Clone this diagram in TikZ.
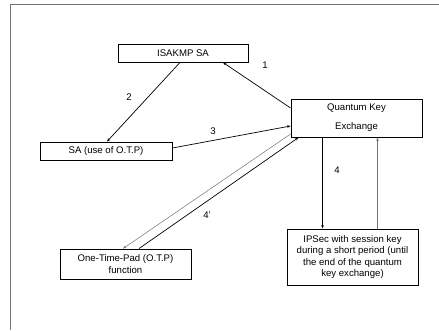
\documentclass[tikz,border=0pt]{standalone}
\usepackage{fontspec}
\setmainfont{Liberation Sans}
\usetikzlibrary{arrows.meta}
\begin{document}
\begin{tikzpicture}[x=1pt,y=-1pt,
  box/.style={draw=black,line width=0.9pt,inner sep=0pt,align=center,
    font=\fontsize{9.6}{11.6}\selectfont},
  lbl/.style={inner sep=0pt,font=\fontsize{9.6}{11.6}\selectfont},
  arr/.style={line width=0.7pt,-{Stealth[length=3.5pt,width=2.6pt]}},
  garr/.style={line width=0.5pt,draw=black!55,-{Stealth[length=3.5pt,width=2.6pt]}}]
\useasboundingbox (0,0) rectangle (439,330);
\draw[line width=1.6pt,draw=black!55] (439,4.5) -- (10.5,4.5) -- (10.5,330);
\node[box,minimum width=130pt,minimum height=18pt] (isakmp) at (183,53) {ISAKMP SA};
\node[box,minimum width=131pt,minimum height=38pt,font=\fontsize{9.6}{19}\selectfont] (qke) at (356.5,118) {Quantum Key\\Exchange};
\node[box,minimum width=132pt,minimum height=18pt] (sa) at (106,151) {SA (use of O.T.P)};
\node[box,minimum width=131pt,minimum height=30pt] (otp) at (125.5,264) {One-Time-Pad (O.T.P)\\function};
\node[box,minimum width=131pt,minimum height=56pt] (ipsec) at (352.5,257) {IPSec with session key\\during a short period (until\\the end of the quantum\\key exchange)};
\draw[arr] ([yshift=10pt]qke.west) -- ([xshift=40pt]isakmp.south);
\draw[arr] ([xshift=-3pt]isakmp.south) -- ([xshift=1pt]sa.north);
\draw[arr] ([yshift=3pt]sa.east) -- ([yshift=-8pt]qke.west);
\draw[garr] ([yshift=-16pt]qke.west) -- ([xshift=-2.5pt]otp.north);
\draw[arr] ([xshift=13.5pt]otp.north) -- ([xshift=8pt]qke.south west);
\draw[arr] ([xshift=32pt]qke.south west) -- ([xshift=36pt]ipsec.north west);
\draw[garr] ([xshift=91pt]ipsec.north west) -- ([xshift=87pt]qke.south west);
\node[lbl] (l1) at (265,65) {1};
\node[lbl] (l2) at (129,97) {2};
\node[lbl] (l3) at (213,131) {3};
\node[lbl] (l4) at (337,170) {4};
\node[lbl] (l4p) at (207,215) {4'};
\end{tikzpicture}
\end{document}
